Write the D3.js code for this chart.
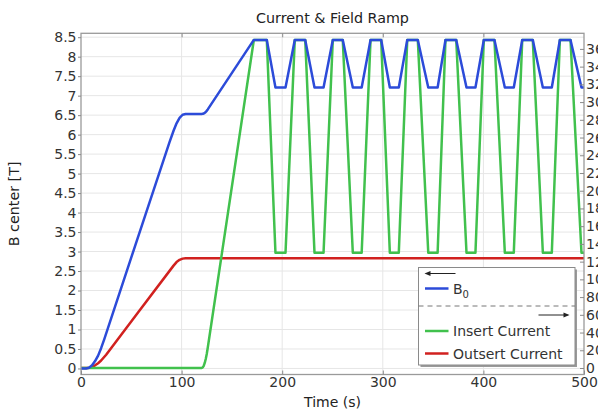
<!DOCTYPE html>
<html><head><meta charset="utf-8">
<script src="https://cdn.jsdelivr.net/npm/d3@7/dist/d3.min.js"></script>
<style>
body{margin:0;background:#fff;overflow:hidden}
text{font-family:"DejaVu Sans",sans-serif;fill:#333}
</style>
</head><body><svg id="c" width="598" height="414"></svg>
<script>
// ---------- data ----------
const chartTitle = "Current & Field Ramp";
const xLabel = "Time (s)";
const yLabel = "B center [T]";
const xTicks = [0, 100, 200, 300, 400, 500];
const yLeftTicks = [0,0.5,1,1.5,2,2.5,3,3.5,4,4.5,5,5.5,6,6.5,7,7.5,8,8.5];
const yRightTicks = [0,20,40,60,80,100,120,140,160,180,200,220,240,260,280,300,320,340,360];
const legendNames = ["B", "Insert Current", "Outsert Current"];

// B0 [T] vs time [s] (left axis)
const b0 = [[0,0],[5,0],[8,0.02],[11,0.08],[14,0.19],[17,0.33],[20,0.52],[23,0.74],[50,2.85],[88,5.81],[92,6.1],[95,6.29],[98,6.43],[101,6.51],[104,6.53],
  [120,6.53],[121,6.533],[122,6.543],[123,6.559],[124,6.582],[125,6.611],[126,6.647],
  [171.8,8.43],[184.7,8.43],[193.3,7.21],[203.3,7.21],[212.5,8.43],[222.9,8.43],[232.1,7.21],[241.1,7.21],
  [250.3,8.43],[260.2,8.43],[270.2,7.21],[279,7.21],[287.8,8.43],[298.4,8.43],[307,7.21],[315.9,7.21],
  [324.3,8.43],[334.8,8.43],[345.2,7.21],[354.5,7.21],[362.3,8.43],[373,8.43],[383.2,7.21],[392.1,7.21],
  [400.4,8.43],[411,8.43],[421.3,7.21],[430.2,7.21],[438.6,8.43],[449.1,8.43],[459.1,7.21],[468,7.21],
  [476,8.43],[486.6,8.43],[497.5,7.21],[500,7.21]];

// Insert current [A] vs time [s] (right axis)
const insertCurrent = [[0,0],[120,0],[121,0.6],[122,2.5],[123,5.7],[124,10.1],[125,15.8],[126,22.8],
  [171.8,370],[184.7,370],[193.3,130],[203.3,130],[212.5,370],[222.9,370],[232.1,130],[241.1,130],
  [250.3,370],[260.2,370],[270.2,130],[279,130],[287.8,370],[298.4,370],[307,130],[315.9,130],
  [324.3,370],[334.8,370],[345.2,130],[354.5,130],[362.3,370],[373,370],[383.2,130],[392.1,130],
  [400.4,370],[411,370],[421.3,130],[430.2,130],[438.6,370],[449.1,370],[459.1,130],[468,130],
  [476,370],[486.6,370],[497.5,130],[500,130]];

// Outsert current [A] vs time [s] (right axis)
const outsertCurrent = [[0,0],[5,0],[8,0.3],[11,1.35],[14,3.04],[17,5.4],[20,8.4],[25,15],[58,64.5],[92,115.5],[95,119.5],[98,122],[101,123.4],[104,123.8],[500,123.8]];

// ---------- layout ----------
const W = 598, H = 414;
const L = 81, R = 584, T = 33.3, B = 374.5;
const colB = "#2c4bd9", colIns = "#41c14d", colOut = "#d1211f";

const svg = d3.select("#c");
svg.append("rect").attr("width", W).attr("height", H).attr("fill", "#fff");

const x = d3.scaleLinear().domain([0, 500]).range([L, R]);
const yL = d3.scaleLinear().domain([-0.155, 8.6]).range([B, T]);
const yR = d3.scaleLinear().domain([-7.33, 377.6]).range([B, T]);

// grid
const grid = svg.append("g").attr("stroke", "#e6e6e6").attr("stroke-width", 1);
grid.selectAll(".gh").data(yLeftTicks).join("line")
  .attr("x1", L).attr("x2", R).attr("y1", d => yL(d)).attr("y2", d => yL(d));
grid.selectAll(".gv").data(xTicks.slice(1, -1)).join("line")
  .attr("y1", T).attr("y2", B).attr("x1", d => x(d)).attr("x2", d => x(d));

// clip
svg.append("clipPath").attr("id", "clip").append("rect")
  .attr("x", L).attr("y", T - 2).attr("width", R - L).attr("height", B - T + 4);

const lineL = d3.line().x(d => x(d[0])).y(d => yL(d[1]));
const lineR = d3.line().x(d => x(d[0])).y(d => yR(d[1]));
const plot = svg.append("g").attr("clip-path", "url(#clip)")
  .attr("fill", "none").attr("stroke-width", 2.5).attr("stroke-linejoin", "round").attr("stroke-linecap", "round");
plot.append("path").datum(outsertCurrent).attr("d", lineR).attr("stroke", colOut);
plot.append("path").datum(insertCurrent).attr("d", lineR).attr("stroke", colIns);
plot.append("path").datum(b0).attr("d", lineL).attr("stroke", colB);

// frame
svg.append("rect").attr("x", L).attr("y", T).attr("width", R - L).attr("height", B - T)
  .attr("fill", "none").attr("stroke", "#9a9a9a").attr("stroke-width", 1.3);

const fontSize = 14;
// axes
const gx = svg.append("g").attr("transform", `translate(0,${B})`)
  .call(d3.axisBottom(x).tickValues(xTicks).tickSize(-4).tickPadding(3).tickFormat(d3.format("d")));
const gxTop = svg.append("g").attr("transform", `translate(0,${T})`)
  .call(d3.axisTop(x).tickValues(xTicks.slice(1, -1)).tickSize(-4).tickFormat(""));
const gyl = svg.append("g").attr("transform", `translate(${L},0)`)
  .call(d3.axisLeft(yL).tickValues(yLeftTicks).tickSize(3).tickPadding(1.5).tickFormat(d => String(d)));
const gyr = svg.append("g").attr("transform", `translate(${R},0)`)
  .call(d3.axisRight(yR).tickValues(yRightTicks).tickSize(-4).tickPadding(2).tickFormat(d => String(d)));
[gx, gxTop, gyl, gyr].forEach(g => {
  g.select(".domain").remove();
  g.selectAll(".tick line").attr("stroke", "#8a8a8a").attr("stroke-width", 1);
  g.selectAll("text").attr("font-size", fontSize).attr("fill", "#333").attr("font-family", "DejaVu Sans");
});

// titles
svg.append("text").attr("x", (L + R) / 2).attr("y", 23).attr("text-anchor", "middle")
  .attr("font-size", 14.3).style("fill", "#222").text(chartTitle);
svg.append("text").attr("x", (L + R) / 2).attr("y", 407).attr("text-anchor", "middle")
  .attr("font-size", 14).style("fill", "#222").text(xLabel);
svg.append("text").attr("transform", `translate(18.5,${(T + B) / 2}) rotate(-90)`).attr("text-anchor", "middle")
  .attr("font-size", 14.3).style("fill", "#222").text(yLabel);

// legend
const lg = svg.append("g");
const lx = 418.5, ly = 267.5, lw = 156.5, lh = 97.5;
lg.append("rect").attr("x", lx + 2).attr("y", ly + 2).attr("width", lw).attr("height", lh).attr("fill", "#9a9a9a");
lg.append("rect").attr("x", lx).attr("y", ly).attr("width", lw).attr("height", lh)
  .attr("fill", "#fff").attr("stroke", "#8a8a8a").attr("stroke-width", 1);
// left arrow
lg.append("line").attr("x1", lx + 8).attr("x2", lx + 37).attr("y1", ly + 6).attr("y2", ly + 6).attr("stroke", "#222").attr("stroke-width", 1);
lg.append("path").attr("d", `M${lx + 6},${ly + 6} l6,-2.6 l0,5.2 z`).attr("fill", "#222");
// separator
lg.append("line").attr("x1", lx).attr("x2", lx + lw).attr("y1", ly + 38.5).attr("y2", ly + 38.5)
  .attr("stroke", "#777").attr("stroke-width", 1).attr("stroke-dasharray", "5,4");
// right arrow
lg.append("line").attr("x1", lx + 120).attr("x2", lx + 149).attr("y1", ly + 47.5).attr("y2", ly + 47.5).attr("stroke", "#222").attr("stroke-width", 1);
lg.append("path").attr("d", `M${lx + 151},${ly + 47.5} l-6,-2.6 l0,5.2 z`).attr("fill", "#222");

const rows = [
  {name: legendNames[0], col: colB, y: ly + 21, sub: "0"},
  {name: legendNames[1], col: colIns, y: ly + 63.5},
  {name: legendNames[2], col: colOut, y: ly + 86}
];
rows.forEach(r => {
  lg.append("line").attr("x1", lx + 6.5).attr("x2", lx + 30).attr("y1", r.y).attr("y2", r.y)
    .attr("stroke", r.col).attr("stroke-width", 2.5);
  const t = lg.append("text").attr("x", lx + 34.5).attr("y", r.y + 5).attr("font-size", 14).style("fill", "#333").text(r.name);
  if (r.sub) t.append("tspan").attr("font-size", 10).attr("dy", 4).text(r.sub);
});
</script>
</body></html>
